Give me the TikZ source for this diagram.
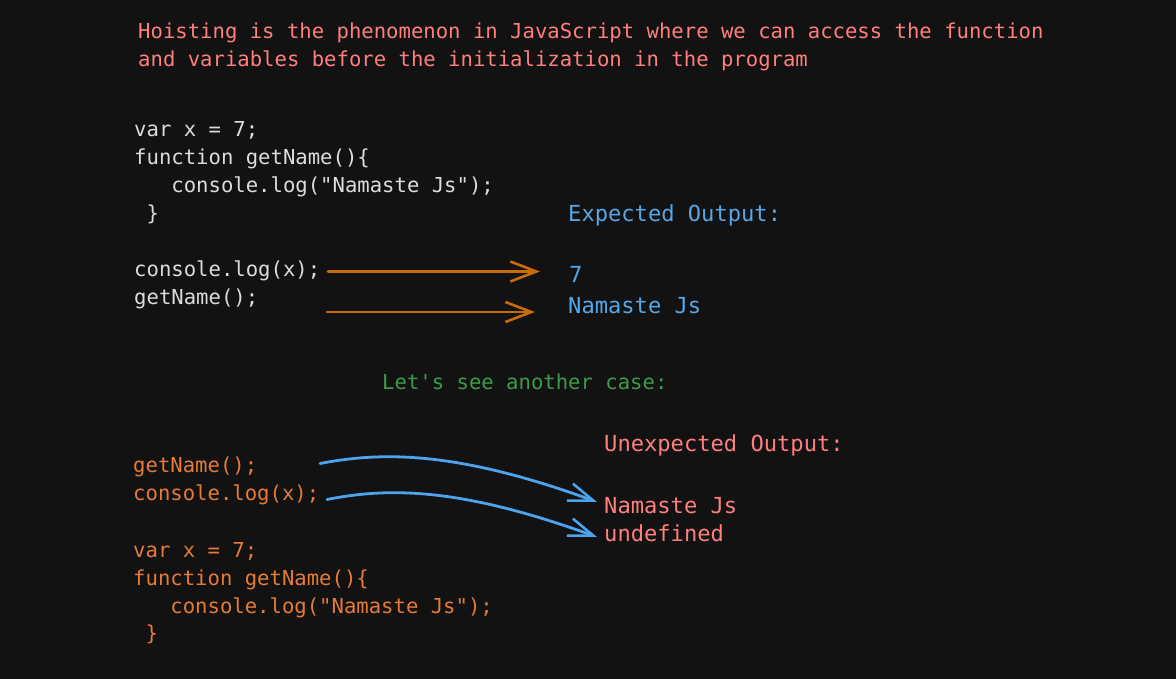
\documentclass[tikz,border=0pt]{standalone}
\usepackage{fontspec}
\newfontfamily\code[Ligatures=TeXOff]{DejaVu Sans Mono}
\usetikzlibrary{arrows.meta}
\definecolor{bg}{HTML}{121212}
\definecolor{txtwhite}{HTML}{DCDCDC}
\definecolor{txtred}{HTML}{FF7E7E}
\definecolor{txtblue}{HTML}{56A6E8}
\definecolor{txtgreen}{HTML}{3C9B48}
\definecolor{txtorange}{HTML}{E57B36}
\definecolor{arrorange}{HTML}{C96C08}
\definecolor{arrblue}{HTML}{4DA3EC}
\tikzset{
  txt/.style={anchor=base west, inner sep=0pt, font=\code\fontsize{20.6}{28}\selectfont},
  big/.style={font=\code\fontsize{22.1}{30}\selectfont},
  white/.style={txt, text=txtwhite},
  red/.style={txt, text=txtred},
  blue/.style={txt, text=txtblue},
  green/.style={txt, text=txtgreen},
  orange/.style={txt, text=txtorange},
  orangearrow/.style={draw=arrorange, line width=2.8pt, line cap=round, -{Straight Barb[length=26pt,width=20pt,line width=2.6pt]}},
  bluearrow/.style={draw=arrblue, line width=2.8pt, line cap=round, -{Straight Barb[length=25pt,width=18pt,line width=2.6pt]}}
}
\begin{document}
\begin{tikzpicture}[x=1pt,y=-1pt]
\fill[bg] (0,0) rectangle (1176,679);
\useasboundingbox (0,0) rectangle (1176,679);
% title
\node[red] (t1) at (138,38.5) {Hoisting is the phenomenon in JavaScript where we can access the function};
\node[red] (t2) at (138,67) {and variables before the initialization in the program};
% first code block
\node[white] (w1) at (134,136.5) {var x = 7;};
\node[white] (w2) at (134,164.5) {function getName()\{};
\node[white] (w3) at (171.2,192.5) {console.log("Namaste Js");};
\node[white] (w4) at (146.4,220.5) {\}};
\node[white] (w5) at (134,276.5) {console.log(x);};
\node[white] (w6) at (134,304.5) {getName();};
% expected output
\node[blue, big] (eo) at (568,222) {Expected Output:};
\node[blue, big] (e1) at (569,283) {7};
\node[blue, big] (e2) at (568,313) {Namaste Js};
\coordinate (a1s) at (328,271.5);
\coordinate (a1e) at (540,271.5);
\coordinate (a2s) at (327,312);
\coordinate (a2e) at (535,312);
\draw[orangearrow] (a1s) -- (a1e);
\draw[orangearrow] (a2s) -- (a2e);
% another case
\node[green] (g1) at (382,389) {Let's see another case:};
\node[red, big] (uo) at (604,451) {Unexpected Output:};
% second code block
\node[orange] (o1) at (133,472) {getName();};
\node[orange] (o2) at (133,500.5) {console.log(x);};
\node[orange] (o3) at (133,557.5) {var x = 7;};
\node[orange] (o4) at (133,585.5) {function getName()\{};
\node[orange] (o5) at (170.2,613) {console.log("Namaste Js");};
\node[orange] (o6) at (145.4,640) {\}};
\node[red, big] (u1) at (604,513) {Namaste Js};
\node[red, big] (u2) at (604,541.5) {undefined};
\coordinate (b1s) at (320,463.5);
\coordinate (b1e) at (597,502);
\coordinate (b2s) at (327,499.5);
\coordinate (b2e) at (597,537);
\draw[bluearrow] (b1s) .. controls (385,451) and (460,452) .. (b1e);
\draw[bluearrow] (b2s) .. controls (390,487) and (462,488) .. (b2e);
\end{tikzpicture}
\end{document}
